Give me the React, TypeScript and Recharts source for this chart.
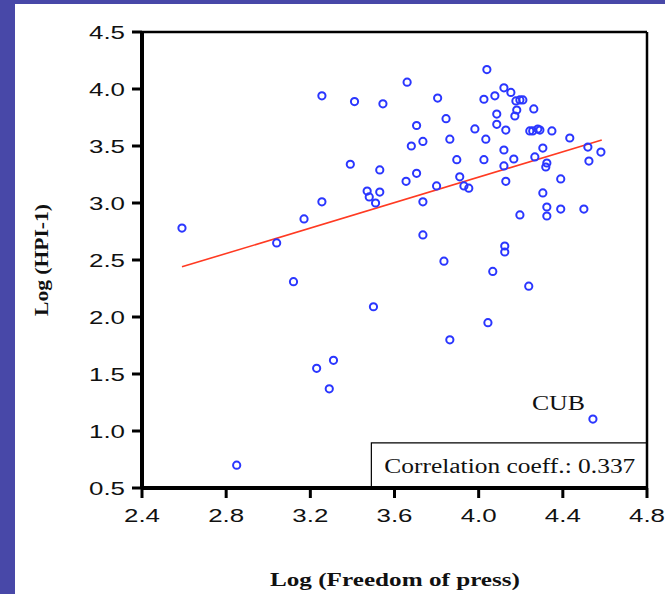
import React from 'react';
import { ScatterChart, Scatter, XAxis, YAxis, ReferenceLine, ReferenceArea, ReferenceDot } from 'recharts';

// Log (Freedom of press) per country
const pressLog = [
  2.59, 2.85, 3.04, 3.12, 3.17, 3.255, 3.255, 3.23, 3.31, 3.29,
  3.41, 3.39, 3.47, 3.53, 3.48, 3.51, 3.50, 3.53, 3.545, 3.66,
  3.655, 3.68, 3.705, 3.705, 3.735, 3.735, 3.735, 3.805, 3.80, 3.835,
  3.845, 3.863, 3.863, 3.896, 3.91, 3.93, 3.953, 3.982, 4.025, 4.025,
  4.034, 4.039, 4.044, 4.067, 4.077, 4.086, 4.086, 4.12, 4.12, 4.12,
  4.124, 4.124, 4.129, 4.129, 4.153, 4.167, 4.172, 4.181, 4.177, 4.196,
  4.21, 4.196, 4.238, 4.243, 4.257, 4.262, 4.267, 4.281, 4.291, 4.305,
  4.305, 4.324, 4.319, 4.324, 4.324, 4.348, 4.39, 4.39, 4.433, 4.50,
  4.519, 4.524, 4.581, 4.543,
];

// Log (HPI-1) per country
const hpiLog = [
  2.78, 0.70, 2.65, 2.31, 2.86, 3.01, 3.94, 1.55, 1.62, 1.37,
  3.89, 3.34, 3.105, 3.096, 3.053, 3.00, 2.09, 3.29, 3.87, 4.06,
  3.19, 3.50, 3.68, 3.26, 3.54, 3.01, 2.72, 3.92, 3.15, 2.49,
  3.74, 3.56, 1.80, 3.38, 3.23, 3.15, 3.13, 3.65, 3.91, 3.38,
  3.56, 4.17, 1.95, 2.40, 3.94, 3.78, 3.69, 4.01, 3.465, 3.325,
  2.623, 2.57, 3.64, 3.19, 3.97, 3.386, 3.763, 3.816, 3.895, 3.904,
  3.904, 2.895, 2.27, 3.632, 3.632, 3.825, 3.404, 3.649, 3.64, 3.482,
  3.088, 3.351, 3.316, 2.965, 2.886, 3.632, 3.211, 2.947, 3.57, 2.947,
  3.491, 3.368, 3.447, 1.105,
];

const xTicks = [2.4, 2.8, 3.2, 3.6, 4.0, 4.4, 4.8];
const yTicks = [0.5, 1.0, 1.5, 2.0, 2.5, 3.0, 3.5, 4.0, 4.5];
const xDomain = [2.4, 4.8];
const yDomain = [0.5, 4.5];

// fitted line end points
const fitX = [2.59, 4.585];
const fitY = [2.44, 3.553];

const corrText = 'Correlation coeff.: 0.337';
const outlierName = 'CUB';
const outlierIndex = 83;

const points = pressLog.map((x, i) => ({ x, y: hpiLog[i] }));

const W = 665;
const H = 594;
const TICK = 10;
const GAP_Y = 7;
const GAP_X = 8;

const tickFont = '"Liberation Sans", Arial, sans-serif';
const serif = '"Liberation Serif", "Times New Roman", serif';

// tick mark is drawn here too so it can be thick
const YTick = (props: any) => {
  const { x, y, payload } = props;
  return (
    <g>
      <line x1={x + GAP_Y} x2={x + GAP_Y + TICK} y1={y} y2={y} stroke="#000" strokeWidth={3} />
      <text x={x} y={y} dy="0.36em" textAnchor="end" fontFamily={tickFont} fontSize={19} fill="#111"
        textLength={36} lengthAdjust="spacingAndGlyphs">
        {Number(payload.value).toFixed(1)}
      </text>
    </g>
  );
};

const XTick = (props: any) => {
  const { x, y, payload } = props;
  return (
    <g>
      <line x1={x} x2={x} y1={y - GAP_X - TICK} y2={y - GAP_X} stroke="#000" strokeWidth={3} />
      <text x={x} y={y} dy={16} textAnchor="middle" fontFamily={tickFont} fontSize={19} fill="#111"
        textLength={36} lengthAdjust="spacingAndGlyphs">
        {Number(payload.value).toFixed(1)}
      </text>
    </g>
  );
};

const Ring = (props: any) => (
  <circle cx={props.cx} cy={props.cy} r={3.6} fill="none" stroke="#2a36ff" strokeWidth={2} />
);

const App = () => {
  return (
    <div style={{ position: 'absolute', left: 0, top: 0, width: W, height: H, background: '#4848a8' }}>
      <div style={{ position: 'absolute', left: 15, top: 4, right: 0, bottom: 0, background: '#fff' }} />
      <div style={{ position: 'absolute', left: 0, top: 0 }}>
        <ScatterChart width={W} height={H} margin={{ top: 32, right: 18, bottom: 66, left: 0 }}>
          <XAxis
            dataKey="x"
            type="number"
            domain={xDomain}
            ticks={xTicks}
            height={40}
            tickSize={TICK}
            tickMargin={GAP_X}
            axisLine={false}
            tickLine={false}
            tick={<XTick />}
            label={() => (
              <text x={395} y={586} textAnchor="middle" fontFamily={serif} fontWeight="bold" fontSize={19}
                fill="#111" textLength={250} lengthAdjust="spacingAndGlyphs">
                Log (Freedom of press)
              </text>
            )}
          />
          <YAxis
            dataKey="y"
            type="number"
            domain={yDomain}
            ticks={yTicks}
            width={142}
            tickSize={TICK}
            tickMargin={GAP_Y}
            axisLine={false}
            tickLine={false}
            tick={<YTick />}
            label={() => (
              <text x={41} y={260} transform="rotate(-90 41 260)" textAnchor="middle" dominantBaseline="central"
                fontFamily={serif} fontWeight="bold" fontSize={19} fill="#111"
                textLength={112} lengthAdjust="spacingAndGlyphs">
                Log (HPI-1)
              </text>
            )}
          />
          <ReferenceArea
            x1={3.49}
            x2={4.8}
            y1={0.5}
            y2={0.895}
            fill="#fff"
            fillOpacity={1}
            stroke="#000"
            strokeWidth={1.2}
            label={(p: any) => {
              const vb = p.viewBox || { x: 372, y: 443 };
              return (
                <text x={vb.x + 13} y={vb.y + 30} fontFamily={serif} fontSize={20} fill="#111"
                  textLength={251} lengthAdjust="spacingAndGlyphs">
                  {corrText}
                </text>
              );
            }}
          />
          {/* plot frame: heavy left/bottom, lighter top/right */}
          <ReferenceLine y={yDomain[1]} stroke="#000" strokeWidth={2.5} />
          <ReferenceLine x={xDomain[1]} stroke="#000" strokeWidth={2.5} />
          <ReferenceLine x={xDomain[0]} stroke="#000" strokeWidth={4} />
          <ReferenceLine y={yDomain[0]} stroke="#000" strokeWidth={4} />
          <ReferenceLine
            segment={[{ x: fitX[0], y: fitY[0] }, { x: fitX[1], y: fitY[1] }]}
            stroke="#ff3a22"
            strokeWidth={1.6}
          />
          <Scatter data={points} shape={<Ring />} isAnimationActive={false} />
          <ReferenceDot
            x={pressLog[outlierIndex]}
            y={hpiLog[outlierIndex]}
            r={0}
            fill="none"
            stroke="none"
            label={(p: any) => {
              const vb = p.viewBox || { x: 593, y: 419 };
              const cx = vb.x + (vb.width || 0) / 2;
              const cy = vb.y + (vb.height || 0) / 2;
              return (
                <text x={cx - 61} y={cy - 9} fontFamily={serif} fontSize={20} fill="#111"
                  textLength={53} lengthAdjust="spacingAndGlyphs">
                  {outlierName}
                </text>
              );
            }}
          />
        </ScatterChart>
      </div>
    </div>
  );
};

export default App;
